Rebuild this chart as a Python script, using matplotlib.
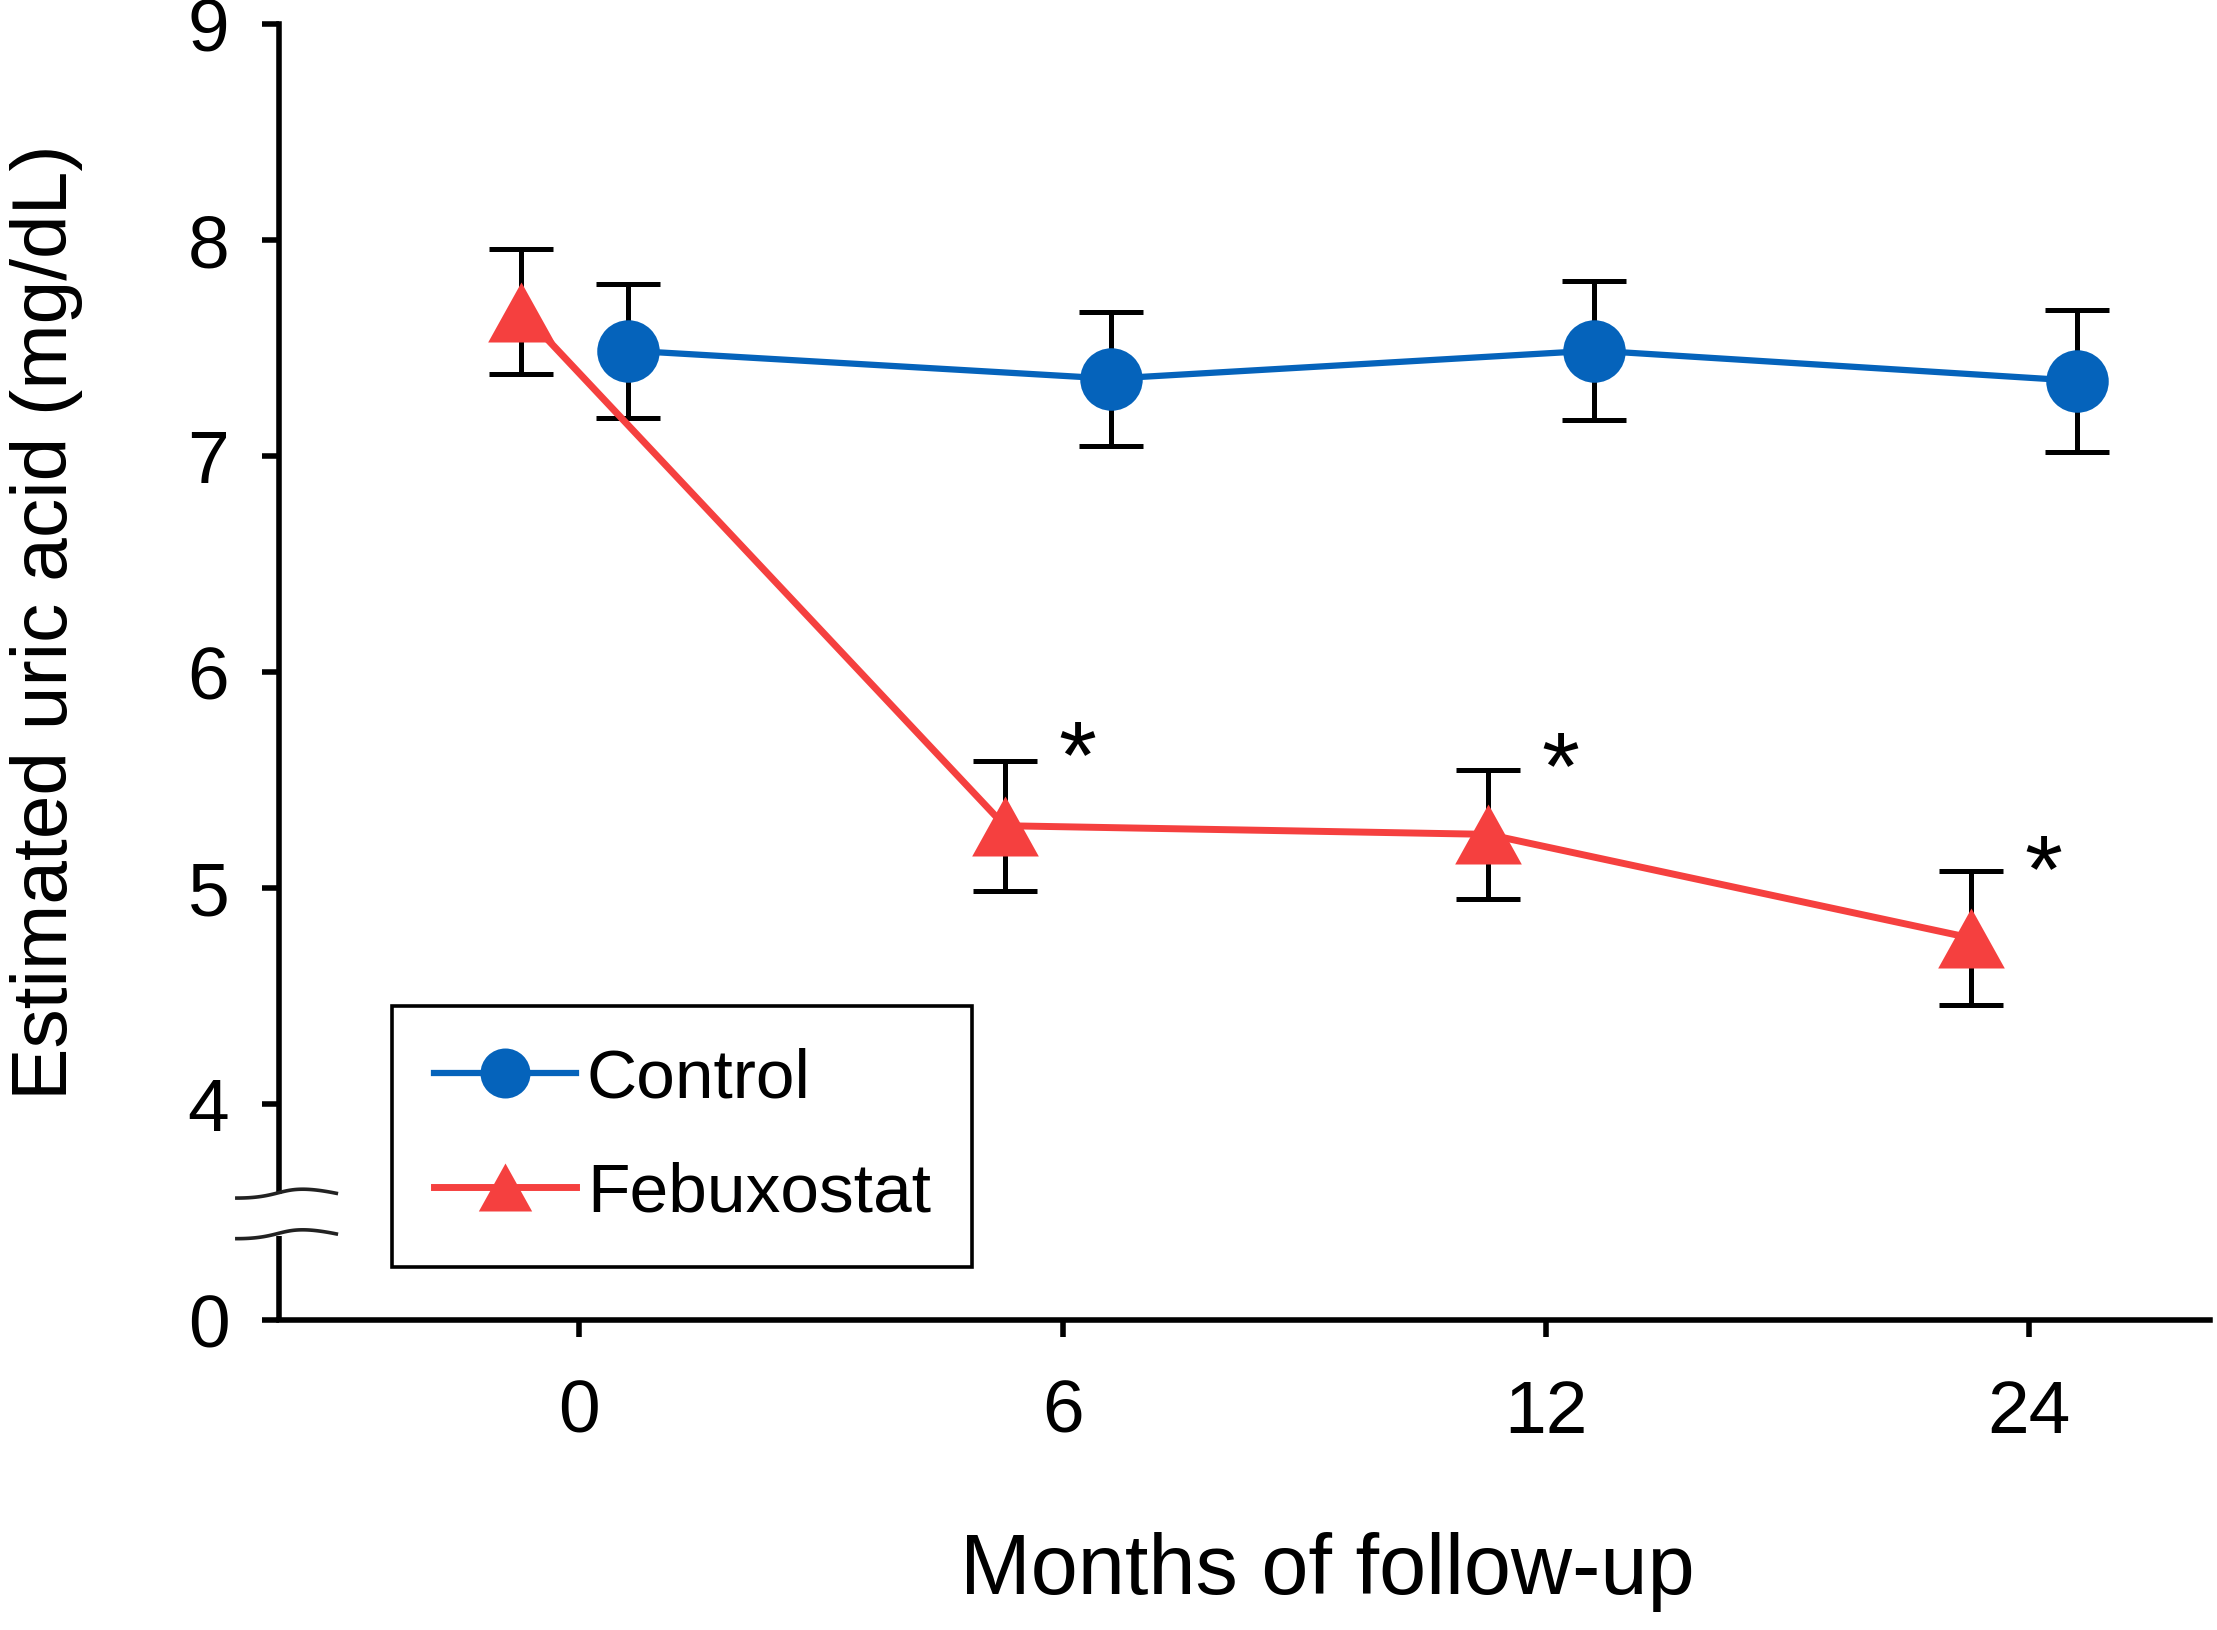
import numpy as np
import matplotlib
matplotlib.use("Agg")
import matplotlib.pyplot as plt

plt.rcParams["font.family"] = ["Liberation Sans", "DejaVu Sans"]

# ------------------------------------------------------------
# data
# ------------------------------------------------------------
months = ["0", "6", "12", "24"]

control_mean = [7.49, 7.36, 7.49, 7.35]
control_err = [0.31, 0.31, 0.32, 0.33]

febux_mean = [7.67, 5.29, 5.25, 4.77]
febux_err = [0.29, 0.30, 0.30, 0.31]

# significance marks next to febuxostat points (centre of the "*")
star_idx = [1, 2, 3]
star_y = [5.69, 5.64, 5.16]

# broken y axis: the "0" tick sits one unit below 4
y_ticks = [3, 4, 5, 6, 7, 8, 9]
y_ticklabels = ["0", "4", "5", "6", "7", "8", "9"]

BLUE = "#0563BB"
RED = "#F5403F"

x = np.arange(len(months))
x_ctrl = x + 0.10
x_feb = x - 0.12

fig = plt.figure(figsize=(22.17, 16.30), dpi=100)
ax = fig.add_axes([0.126, 0.190, 0.871, 0.795])

# error bars first so the markers sit on top
ax.errorbar(x_ctrl, control_mean, yerr=control_err, fmt="none", ecolor="black",
            elinewidth=3.6, capsize=23, capthick=3.6, zorder=2)
ax.errorbar(x_feb, febux_mean, yerr=febux_err, fmt="none", ecolor="black",
            elinewidth=3.6, capsize=23, capthick=3.6, zorder=2)

tri = [(-1, -0.9), (1, -0.9), (0, 0.9), (-1, -0.9)]
h_ctrl, = ax.plot(x_ctrl, control_mean, color=BLUE, lw=4.5, marker="o",
                  markersize=45, markeredgewidth=0, zorder=3, label="Control")
h_feb, = ax.plot(x_feb, febux_mean, color=RED, lw=5, marker=tri,
                 markersize=48, markeredgewidth=0, zorder=3, label="Febuxostat")

for i, yy in zip(star_idx, star_y):
    ax.text(x[i] + 0.03, yy - 0.225, "*", fontsize=70, ha="center", va="baseline")

# axes
ax.set_xlim(-0.621, 3.375)
ax.set_ylim(3, 9)
ax.set_xticks(x)
ax.set_xticklabels(months)
ax.set_yticks(y_ticks)
ax.set_yticklabels(y_ticklabels)

for s in ["top", "right"]:
    ax.spines[s].set_visible(False)
ax.spines["left"].set_linewidth(4)
ax.spines["bottom"].set_linewidth(4)
ax.spines["left"].set_bounds(3.6, 9)
ax.plot([-0.621, -0.621], [3, 3.39], color="black", lw=4, clip_on=False,
        solid_capstyle="butt", zorder=4)

ax.tick_params(axis="y", length=12, width=4, pad=24, labelsize=54)
ax.tick_params(axis="x", length=12, width=4, pad=30, labelsize=54)

# break marks on the y axis
trans = matplotlib.transforms.blended_transform_factory(ax.transAxes, ax.transData)
t = np.linspace(0, 1, 60)
for base in [3.566, 3.378]:
    p0 = np.array([-0.022, base])
    p1 = np.array([0.004, base])
    p2 = np.array([0.000, base + 0.075])
    p3 = np.array([0.0295, base + 0.022])
    pts = ((1 - t) ** 3)[:, None] * p0 + (3 * (1 - t) ** 2 * t)[:, None] * p1 \
        + (3 * (1 - t) * t ** 2)[:, None] * p2 + (t ** 3)[:, None] * p3
    ax.plot(pts[:, 0], pts[:, 1], color="#222222", lw=2.6, transform=trans,
            clip_on=False, zorder=5)

ax.set_ylabel("Estimated uric acid (mg/dL)", fontsize=56.5)
ax.yaxis.set_label_coords(-0.1016, 0.539)
ax.set_xlabel("Months of follow-up", fontsize=61)
ax.xaxis.set_label_coords(0.5425, -0.1636)

leg = ax.legend(handles=[h_ctrl, h_feb], loc="lower left",
                bbox_to_anchor=(0.0585, 0.0409), fontsize=50, frameon=True,
                fancybox=False, edgecolor="black", framealpha=1,
                handlelength=2.05, handletextpad=0.15, borderpad=0.6,
                labelspacing=0.72, markerscale=0.8, borderaxespad=0)
leg.get_frame().set_linewidth(2.6)

fig.savefig("out.png", dpi=100, facecolor="white")
